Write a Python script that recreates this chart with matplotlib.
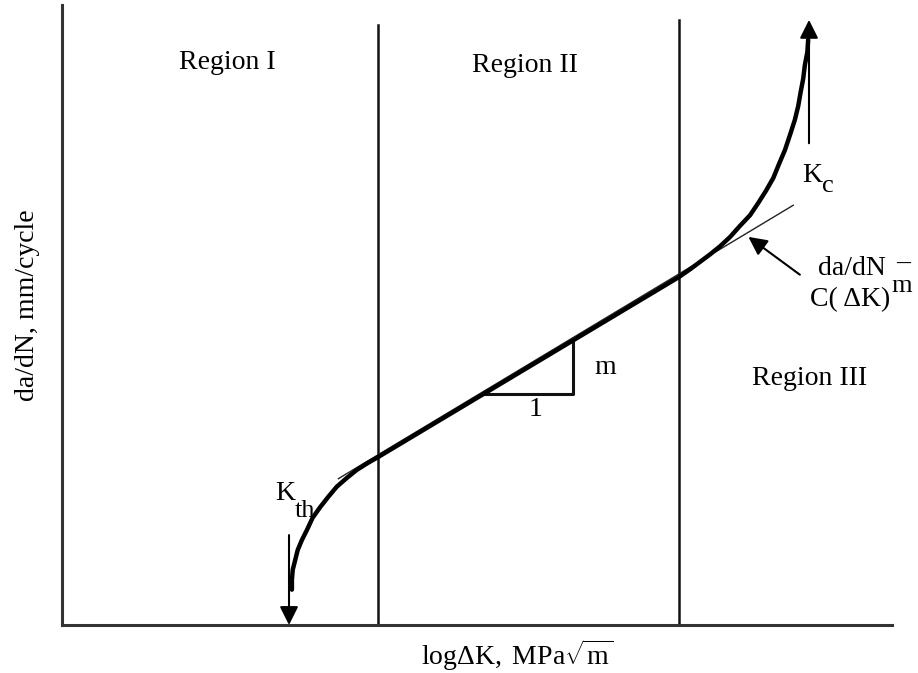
import numpy as np
import matplotlib
matplotlib.use('Agg')
import matplotlib.pyplot as plt

plt.rcParams['font.family'] = ['Liberation Serif', 'DejaVu Serif']
plt.rcParams['mathtext.fontset'] = 'custom'
plt.rcParams['mathtext.rm'] = 'Liberation Serif'
plt.rcParams['mathtext.it'] = 'Liberation Serif:italic'

# Schematic crack-growth curve (log dK vs log da/dN, arbitrary units 0-10)
# Region I: threshold knee
kth_x = [2.77, 2.77, 2.78, 2.81, 2.84, 2.89, 2.95, 3.02, 3.11, 3.21,
         3.31, 3.43, 3.55, 3.68, 3.81]
kth_y = [0.57, 0.73, 0.89, 1.05, 1.21, 1.37, 1.53, 1.73, 1.90, 2.07,
         2.23, 2.37, 2.50, 2.61, 2.71]
# Region II: Paris-law straight part
paris_x = [3.81, 7.43]
paris_y = [2.71, 5.61]
# Region III: unstable growth towards Kc
kc_x = [7.43, 7.57, 7.69, 7.81, 7.93, 8.05, 8.17, 8.29, 8.39, 8.48, 8.57,
        8.64, 8.71, 8.77, 8.83, 8.87, 8.90, 8.93, 8.95, 8.98, 8.99]
kc_y = [5.61, 5.74, 5.86, 5.98, 6.11, 6.26, 6.44, 6.61, 6.81, 7.00, 7.21,
        7.44, 7.66, 7.90, 8.15, 8.37, 8.60, 8.81, 9.03, 9.24, 9.44]

# extended Paris-law tangent (thin line)
tangent_x = [3.33, 8.81]
tangent_y = [2.36, 6.77]

# region boundaries and their top ends
bounds_x = [3.81, 7.43]
bounds_top = [9.68, 9.76]

# slope triangle: run along the Paris line
tri_run = [5.07, 6.16]

fig = plt.figure(figsize=(9.18, 6.73), dpi=100)
ax = fig.add_axes([62 / 918, 48 / 673, 830 / 918, 620 / 673])
ax.set_xlim(0, 10)
ax.set_ylim(0, 10)
for s in ['top', 'right']:
    ax.spines[s].set_visible(False)
for s in ['left', 'bottom']:
    ax.spines[s].set_linewidth(2.2)
    ax.spines[s].set_color('#333333')
ax.set_xticks([])
ax.set_yticks([])

# region dividers
for bx, bt in zip(bounds_x, bounds_top):
    ax.plot([bx, bx], [0, bt], color='#111111', lw=1.8, clip_on=False)

# main curve
curve_x = kth_x + paris_x[1:] + kc_x[1:]
curve_y = kth_y + paris_y[1:] + kc_y[1:]
ax.plot(curve_x, curve_y, color='black', lw=3.2, solid_capstyle='round',
        solid_joinstyle='round', clip_on=False, zorder=4)

# tangent line
ax.plot(tangent_x, tangent_y, color='#222222', lw=1.0, zorder=3)

# slope triangle
tri_y = np.interp(tri_run, paris_x, paris_y)
ax.plot([tri_run[0], tri_run[1], tri_run[1]],
        [tri_y[0], tri_y[0], tri_y[1]], color='#111111', lw=2.2, zorder=3)
ax.text(6.54, 4.16, 'm', fontsize=20, ha='center', va='center')
ax.text(5.71, 3.47, '1', fontsize=20, ha='center', va='center')

# threshold and critical arrows
arrow = dict(arrowstyle='-|>', color='black', lw=1.5, mutation_scale=28,
             shrinkA=0, shrinkB=0)
ax.annotate('', xy=(2.735, 0.0), xytext=(2.735, 1.45), arrowprops=arrow,
            annotation_clip=False)
ax.annotate('', xy=(9.0, 9.76), xytext=(9.0, 7.77), arrowprops=arrow,
            annotation_clip=False)
ax.annotate('', xy=(8.27, 6.26), xytext=(8.89, 5.65), arrowprops=arrow,
            annotation_clip=False)

# labels
ax.text(1.99, 9.08, 'Region I', fontsize=20, ha='center', va='center')
ax.text(5.58, 9.02, 'Region II', fontsize=20, ha='center', va='center')
ax.text(9.01, 3.98, 'Region III', fontsize=20, ha='center', va='center')

ax.text(2.57, 2.02, 'K', fontsize=20, ha='left', va='baseline')
ax.text(2.80, 1.74, 'th', fontsize=19, ha='left', va='baseline')
ax.text(8.92, 7.15, 'K', fontsize=20, ha='left', va='baseline')
ax.text(9.16, 6.98, 'c', fontsize=19, ha='left', va='baseline')

ax.text(9.11, 5.65, 'da/dN', fontsize=20, ha='left', va='baseline')
ax.text(10.05, 5.72, '\u2013', fontsize=20, ha='left', va='baseline')
ax.text(9.01, 5.15, 'C( \u0394K)', fontsize=20, ha='left', va='baseline')
ax.text(9.99, 5.37, r'$\mathrm{m}$', fontsize=19, ha='left', va='baseline')

fig.text(28 / 918, 1 - 305 / 673, 'da/dN, mm/cycle', fontsize=20,
         rotation=90, ha='center', va='center')
fig.text(517 / 918, 1 - 655 / 673,
         r'$\mathrm{log\Delta K,\ MPa}\sqrt{\mathrm{m}}$', fontsize=20,
         ha='center', va='center')

fig.savefig('out.png', dpi=100)
